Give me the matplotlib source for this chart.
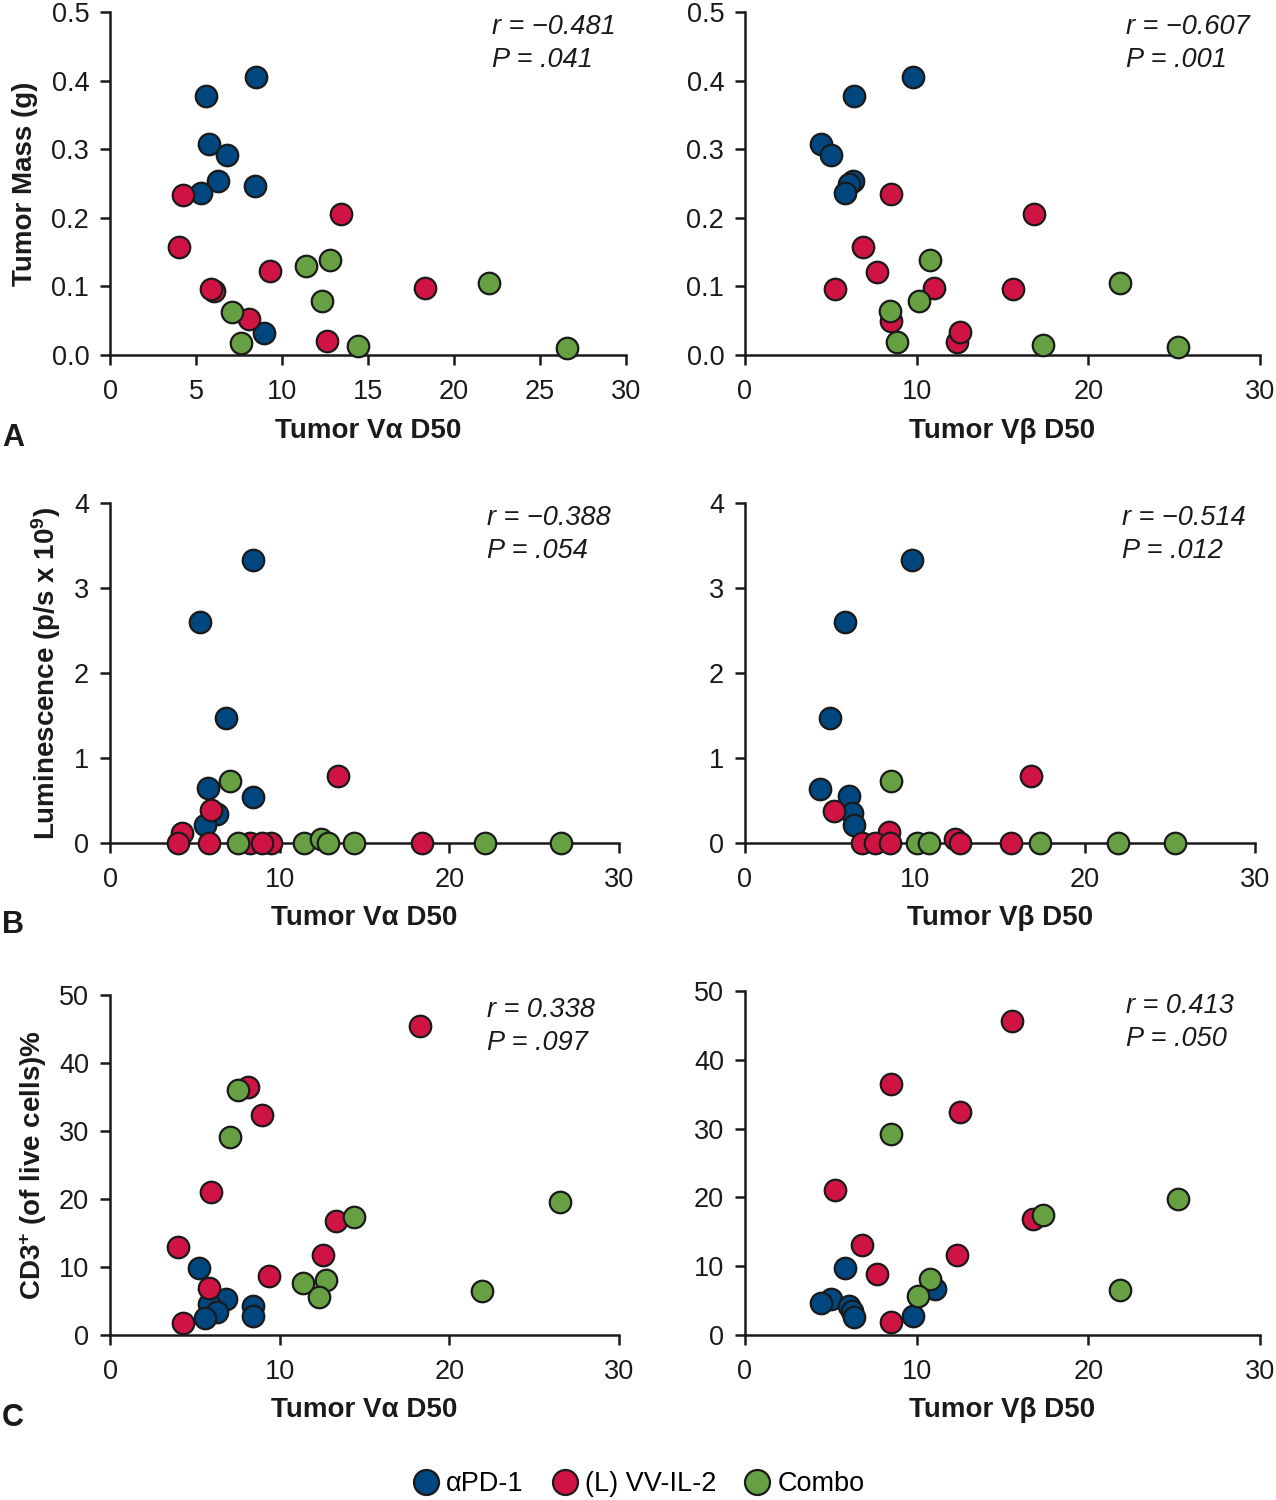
import matplotlib
matplotlib.use('Agg')
import matplotlib.pyplot as plt
from matplotlib.lines import Line2D

plt.rcParams['font.family'] = ['Liberation Sans', 'DejaVu Sans']
plt.rcParams['mathtext.fontset'] = 'custom'
plt.rcParams['mathtext.rm'] = 'Liberation Sans'
plt.rcParams['mathtext.bf'] = 'Liberation Sans:bold'
plt.rcParams['mathtext.it'] = 'Liberation Sans:italic'

group_names = ['\u03b1PD-1', '(L) VV-IL-2', 'Combo']
group_colors = ['#00467F', '#CF1443', '#67A042']

# ---------------- Panel A : Tumor mass ----------------
A_va_blue_x = [8.46, 5.61, 5.77, 6.83, 6.25, 5.27, 8.44, 8.96]
A_va_blue_y = [0.405, 0.377, 0.308, 0.291, 0.254, 0.236, 0.246, 0.032]
A_va_red_x = [4.27, 4.01, 13.43, 9.32, 6.05, 5.85, 8.06, 18.34, 12.59]
A_va_red_y = [0.233, 0.158, 0.205, 0.122, 0.094, 0.096, 0.052, 0.097, 0.021]
A_va_green_x = [11.40, 12.81, 22.02, 12.32, 7.07, 7.63, 14.39, 26.55]
A_va_green_y = [0.130, 0.138, 0.105, 0.078, 0.062, 0.018, 0.013, 0.010]

A_vb_blue_x = [9.77, 6.37, 4.41, 5.02, 6.29, 6.03, 5.83]
A_vb_blue_y = [0.405, 0.377, 0.308, 0.291, 0.254, 0.250, 0.236]
A_vb_red_x = [8.50, 16.81, 6.86, 7.71, 5.26, 10.99, 15.64, 8.50, 12.34, 12.50]
A_vb_red_y = [0.234, 0.206, 0.158, 0.121, 0.096, 0.097, 0.096, 0.050, 0.019, 0.033]
A_vb_green_x = [10.78, 21.85, 10.12, 8.46, 8.88, 17.38, 25.25]
A_vb_green_y = [0.139, 0.105, 0.078, 0.064, 0.019, 0.014, 0.011]

# ---------------- Panel B : Luminescence ----------------
B_va_blue_x = [8.43, 5.28, 6.85, 5.79, 8.41, 6.30, 5.59]
B_va_blue_y = [3.335, 2.60, 1.47, 0.645, 0.547, 0.342, 0.212]
B_va_red_x = [13.45, 5.93, 4.27, 4.00, 5.85, 8.27, 9.49, 8.98, 18.38]
B_va_red_y = [0.794, 0.393, 0.118, 0.0, 0.0, 0.0, 0.0, 0.0, 0.0]
B_va_green_x = [7.09, 7.56, 11.42, 12.43, 12.84, 14.38, 22.08, 26.61]
B_va_green_y = [0.73, 0.0, 0.0, 0.05, 0.0, 0.0, 0.0, 0.0]

B_vb_blue_x = [9.81, 5.88, 4.99, 4.40, 6.10, 6.31, 6.41]
B_vb_blue_y = [3.335, 2.60, 1.47, 0.637, 0.558, 0.35, 0.216]
B_vb_red_x = [16.83, 5.24, 8.45, 6.88, 7.64, 8.52, 12.34, 12.65, 15.62]
B_vb_red_y = [0.787, 0.374, 0.126, 0.0, 0.0, 0.0, 0.05, 0.0, 0.0]
B_vb_green_x = [8.56, 10.13, 10.81, 17.36, 21.92, 25.28]
B_vb_green_y = [0.735, 0.0, 0.0, 0.0, 0.0, 0.0]

# ---------------- Panel C : CD3+ ----------------
C_va_blue_x = [5.25, 6.84, 5.82, 6.33, 5.62, 8.40, 8.40]
C_va_blue_y = [9.83, 5.26, 4.62, 3.39, 2.46, 4.28, 2.80]
C_va_red_x = [18.28, 8.15, 8.97, 5.96, 13.31, 12.58, 3.98, 9.35, 5.82, 4.28]
C_va_red_y = [45.5, 36.5, 32.3, 21.0, 16.7, 11.7, 13.0, 8.75, 6.98, 1.82]
C_va_green_x = [7.57, 7.08, 26.55, 14.38, 11.36, 12.74, 12.33, 21.95]
C_va_green_y = [36.0, 29.1, 19.6, 17.3, 7.67, 8.06, 5.6, 6.49]

C_vb_blue_x = [5.83, 5.02, 4.45, 6.03, 6.23, 6.33, 9.81, 11.09]
C_vb_blue_y = [9.8, 5.2, 4.7, 4.23, 3.5, 2.62, 2.77, 6.66]
C_vb_red_x = [15.58, 8.50, 12.50, 5.26, 16.75, 12.34, 6.84, 7.69, 8.50]
C_vb_red_y = [45.6, 36.5, 32.4, 21.1, 16.8, 11.7, 13.1, 8.84, 1.9]
C_vb_green_x = [8.52, 25.21, 17.36, 10.78, 10.07, 21.85]
C_vb_green_y = [29.25, 19.7, 17.5, 8.1, 5.7, 6.56]

r_labels = ['r = \u22120.481', 'r = \u22120.607', 'r = \u22120.388', 'r = \u22120.514', 'r = 0.338', 'r = 0.413']
p_labels = ['P = .041', 'P = .001', 'P = .054', 'P = .012', 'P = .097', 'P = .050']

A_yticks = [0.0, 0.1, 0.2, 0.3, 0.4, 0.5]
B_yticks = [0, 1, 2, 3, 4]
C_yticks = [0, 10, 20, 30, 40, 50]
xticks_fine = [0, 5, 10, 15, 20, 25, 30]
xticks_coarse = [0, 10, 20, 30]

W, H = 1276, 1500
fig = plt.figure(figsize=(W / 100, H / 100), dpi=100)


def add_ax(x0, x1, ytop, ybot):
    return fig.add_axes([x0 / W, 1 - ybot / H, (x1 - x0) / W, (ybot - ytop) / H])


panels = [
    dict(box=(110, 626, 12, 355), data=(A_va_blue_x, A_va_blue_y, A_va_red_x, A_va_red_y, A_va_green_x, A_va_green_y),
         yt=A_yticks, yfmt='{:.1f}', xt=xticks_fine, xl='Tumor V\u03b1 D50', k=0),
    dict(box=(745, 1260, 12, 355), data=(A_vb_blue_x, A_vb_blue_y, A_vb_red_x, A_vb_red_y, A_vb_green_x, A_vb_green_y),
         yt=A_yticks, yfmt='{:.1f}', xt=xticks_coarse, xl='Tumor V\u03b2 D50', k=1),
    dict(box=(110, 619, 503, 843), data=(B_va_blue_x, B_va_blue_y, B_va_red_x, B_va_red_y, B_va_green_x, B_va_green_y),
         yt=B_yticks, yfmt='{:d}', xt=xticks_coarse, xl='Tumor V\u03b1 D50', k=2),
    dict(box=(745, 1255, 503, 843), data=(B_vb_blue_x, B_vb_blue_y, B_vb_red_x, B_vb_red_y, B_vb_green_x, B_vb_green_y),
         yt=B_yticks, yfmt='{:d}', xt=xticks_coarse, xl='Tumor V\u03b2 D50', k=3),
    dict(box=(110, 619, 995, 1335), data=(C_va_blue_x, C_va_blue_y, C_va_red_x, C_va_red_y, C_va_green_x, C_va_green_y),
         yt=C_yticks, yfmt='{:d}', xt=xticks_coarse, xl='Tumor V\u03b1 D50', k=4),
    dict(box=(745, 1260, 991, 1335), data=(C_vb_blue_x, C_vb_blue_y, C_vb_red_x, C_vb_red_y, C_vb_green_x, C_vb_green_y),
         yt=C_yticks, yfmt='{:d}', xt=xticks_coarse, xl='Tumor V\u03b2 D50', k=5),
]

tick_fs = 19.5
label_fs = 20

for p in panels:
    x0, x1, yt, yb = p['box']
    ax = add_ax(x0, x1, yt, yb)
    d = p['data']
    for gi in range(3):
        ax.scatter(d[2 * gi], d[2 * gi + 1], s=240, c=group_colors[gi], edgecolors='#1a1a1a',
                   linewidths=1.6, clip_on=False, zorder=3)
    ax.set_xlim(0, 30)
    ax.set_ylim(p['yt'][0], p['yt'][-1])
    ax.set_xticks(p['xt'])
    ax.set_xticklabels([str(v) for v in p['xt']])
    ax.set_yticks(p['yt'])
    ax.set_yticklabels([p['yfmt'].format(v) for v in p['yt']])
    for s in ['top', 'right']:
        ax.spines[s].set_visible(False)
    for s in ['left', 'bottom']:
        ax.spines[s].set_linewidth(1.8)
        ax.spines[s].set_color('#1a1a1a')
    ax.tick_params(direction='out', length=7, width=1.8, color='#1a1a1a',
                   labelsize=tick_fs, labelcolor='#1a1a1a')
    ax.tick_params(axis='x', pad=10)
    ax.tick_params(axis='y', pad=8)
    ax.patch.set_alpha(0)
    k = p['k']
    ax.text(0.74, 0.955, r_labels[k], transform=ax.transAxes, fontsize=19.5, style='italic',
            ha='left', va='center', color='#1a1a1a')
    ax.text(0.74, 0.86, p_labels[k], transform=ax.transAxes, fontsize=19.5, style='italic',
            ha='left', va='center', color='#1a1a1a')
    xl_y = {355: 431, 843: 918, 1335: 1410}[yb]
    fig.text(((x0 + x1) / 2) / W, 1 - xl_y / H, p['xl'], fontsize=label_fs, fontweight='bold',
             ha='center', va='center', color='#1a1a1a')

# y labels
fig.text(25 / W, 1 - 184 / H, 'Tumor Mass (g)', rotation=90, fontsize=label_fs, fontweight='bold',
         ha='center', va='center', color='#1a1a1a')
fig.text(46 / W, 1 - 673 / H, r'Luminescence (p/s x 10$^{\mathbf{9}}$)', rotation=90, fontsize=label_fs,
         fontweight='bold', ha='center', va='center', color='#1a1a1a')
fig.text(33 / W, 1 - 1165 / H, r'CD3$^{\mathbf{+}}$ (of live cells)%', rotation=90, fontsize=label_fs,
         fontweight='bold', ha='center', va='center', color='#1a1a1a')

# panel letters
for letter, yy in zip(['A', 'B', 'C'], [438, 925, 1418]):
    fig.text(13 / W, 1 - yy / H, letter, fontsize=22, fontweight='bold', ha='center', va='center',
             color='#1a1a1a')

handles = [Line2D([], [], marker='o', linestyle='none', markersize=18, markerfacecolor=c,
                  markeredgecolor='#1a1a1a', markeredgewidth=1.6) for c in group_colors]
fig.legend(handles, group_names, loc='center', bbox_to_anchor=(637 / W, 1 - 1484 / H), ncol=3,
           frameon=False, fontsize=19.5, handletextpad=0.15, columnspacing=0.9, handlelength=1.2,
           borderaxespad=0)

fig.savefig('out.png', dpi=100)
